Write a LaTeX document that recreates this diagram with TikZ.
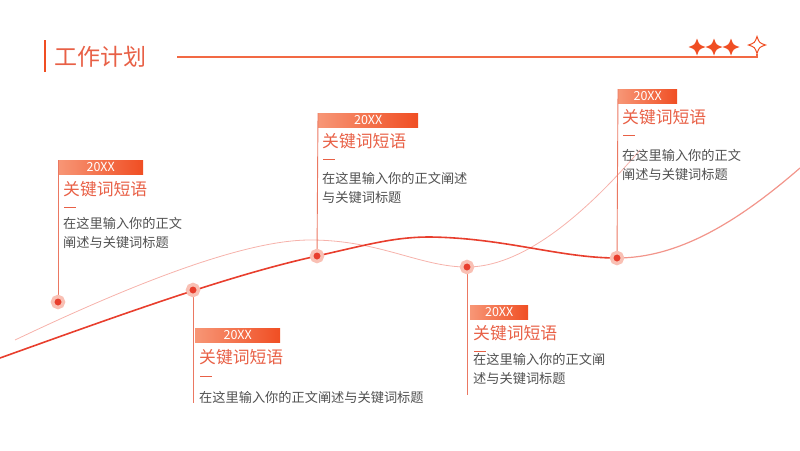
\documentclass[tikz,border=0pt]{standalone}
\usepackage{fontspec}
\setmainfont{Noto Sans CJK SC}
\usepackage{xcolor}
\definecolor{planred}{RGB}{240, 78, 35}
\definecolor{planlight}{RGB}{247, 150, 118}
\definecolor{plansalmon}{RGB}{232, 96, 70}
\definecolor{plangray}{RGB}{80, 80, 80}
\definecolor{planpink}{RGB}{249, 192, 180}
\definecolor{dotred}{RGB}{232, 62, 45}
\usepackage{tikz}
\usetikzlibrary{calc}
\tikzset{
  sparkle/.pic={
    \path[pic actions] (0,-8.5) .. controls (2.2,-2.2) .. (8.5,0)
      .. controls (2.2,2.2) .. (0,8.5) .. controls (-2.2,2.2) .. (-8.5,0)
      .. controls (-2.2,-2.2) .. (0,-8.5) -- cycle;
  }
}

\begin{document}
\begin{tikzpicture}[x=1pt, y=-1pt,
    yearbar/.style={anchor=north west, minimum height=14pt, inner sep=0pt,
      left color=planlight, right color=planred, text=white,
      font=\fontsize{12.5}{13}\selectfont},
    keyword/.style={anchor=west, inner sep=0pt, text=plansalmon,
      font=\fontsize{16.8}{18}\selectfont},
    bodytext/.style={anchor=west, inner sep=0pt, align=left, text=plangray,
      font=\fontsize{13.2}{19}\selectfont},
    stem/.style={draw=plansalmon!85, line width=0.9pt},
    shortdash/.style={draw=plansalmon, line width=0.9pt},
    dot/.style={circle, minimum size=11pt, inner sep=0pt, fill=dotred,
      draw=planpink, line width=3.5pt}]
  \useasboundingbox (0,0) rectangle (800,450);

  % title and top rule
  \draw[planred, line width=1.8pt] (45,40) -- (45,72);
  \node[anchor=west, inner sep=0pt, text=plansalmon,
        font=\fontsize{23}{26}\selectfont] (title) at (54,57) {工作计划};
  \draw[planred!85, line width=1.2pt] (177,57) -- (757,57) -- (757,54);
  \pic[fill=planred] at (697,47) {sparkle};
  \pic[fill=planred] at (714,47) {sparkle};
  \pic[fill=planred] at (731,47) {sparkle};
  \pic[draw=planred, fill=white, line width=1pt] at (757,45) {sparkle};

  % curves
  \draw[dotred!40, line width=0.8pt] (15,340) .. controls (120,290) and (240,240) .. (310,240)
        .. controls (380,240) and (420,267) .. (467,267)
        .. controls (520,267) and (580,220) .. (640,150);
  \draw[dotred!55, line width=1.2pt] (617,258) .. controls (680,258) and (740,220) .. (800,168);
  \draw[dotred, line width=1.6pt] (0,358) .. controls (120,315) and (230,275) .. (317,256)
        .. controls (370,244) and (395,237) .. (430,237)
        .. controls (505,238) and (560,258) .. (617,258);

  % points on the time line
  \coordinate (p1) at (58,302);
  \coordinate (p2) at (193,290);
  \coordinate (p3) at (317,256);
  \coordinate (p4) at (467,267);
  \coordinate (p5) at (617,258);
  \coordinate (e2) at (193,403);
  \coordinate (e4) at (467,395);

  % block 1
  \node[yearbar, minimum width=85pt] (y1) at (58,160) {20XX};
  \node[keyword] (k1) at (63,189) {关键词短语};
  \draw[shortdash] (64,207) -- (76,207);
  \node[bodytext] (b1) at (63,232.5) {在这里输入你的正文\\阐述与关键词标题};
  \draw[stem] (y1.north west) -- (p1);

  % block 2
  \node[yearbar, minimum width=85pt] (y2) at (195,328) {20XX};
  \node[keyword] (k2) at (199,357) {关键词短语};
  \draw[shortdash] (200,376) -- (212,376);
  \node[bodytext] (b2) at (199,397) {在这里输入你的正文阐述与关键词标题};
  \draw[stem] (p2) -- (e2);

  % block 3
  \node[yearbar, minimum width=100pt] (y3) at (318,113) {20XX};
  \node[keyword] (k3) at (322,141) {关键词短语};
  \draw[shortdash] (323,159) -- (335,159);
  \node[bodytext] (b3) at (322,187.5) {在这里输入你的正文阐述\\与关键词标题};
  \draw[stem] (y3.north west) -- (p3);

  % block 4
  \node[yearbar, minimum width=58pt] (y4) at (470,305) {20XX};
  \node[keyword] (k4) at (473,333) {关键词短语};
  \draw[shortdash] (474,351) -- (486,351);
  \node[bodytext] (b4) at (473,369) {在这里输入你的正文阐\\述与关键词标题};
  \draw[stem] (p4) -- (e4);

  % block 5
  \node[yearbar, minimum width=59pt] (y5) at (618,89) {20XX};
  \node[keyword] (k5) at (622,117) {关键词短语};
  \draw[shortdash] (623,135) -- (635,135);
  \node[bodytext] (b5) at (622,164.5) {在这里输入你的正文\\阐述与关键词标题};
  \draw[stem] (y5.north west) -- (p5);

  % dots
  \foreach \i in {1,...,5}
    \node[dot] (d\i) at (p\i) {};
\end{tikzpicture}
\end{document}
